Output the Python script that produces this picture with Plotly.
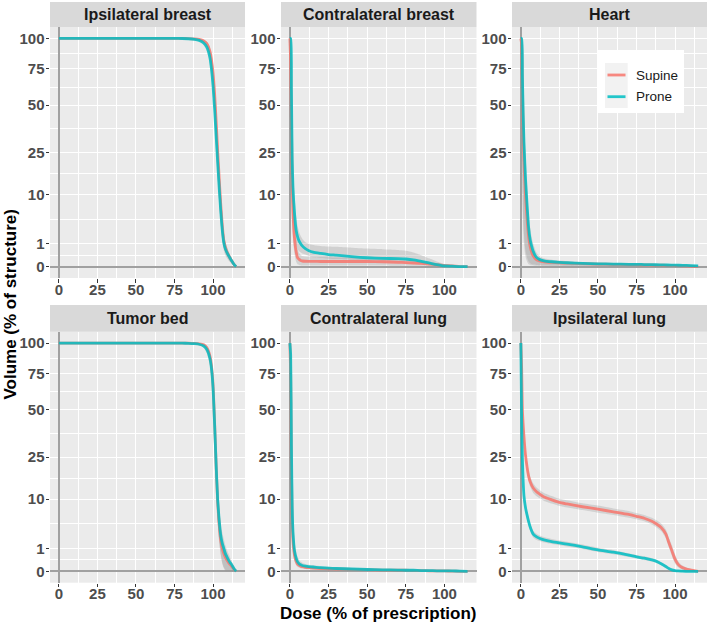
import numpy as np
import plotly.graph_objects as go

# ---------------- data ----------------
PANELS = ["Ipsilateral breast", "Contralateral breast", "Heart",
          "Tumor bed", "Contralateral lung", "Ipsilateral lung"]
SERIES = ["Supine", "Prone"]
SERIES_COLORS = ["#F8766D", "#00BFC4"]
X_TICKS = [0, 25, 50, 75, 100]
X_MINOR = [12.5, 37.5, 62.5, 87.5, 112.5]
Y_TICKS = [0, 1, 10, 25, 50, 75, 100]
Y_TICK_LABELS = ["0", "1", "10", "25", "50", "75", "100"]
X_TITLE = "Dose (% of prescription)"
Y_TITLE = "Volume (% of structure)"

# Ipsilateral breast
IB_DOSE = [0, 20, 40, 60, 75, 80, 84, 88, 91, 94, 96, 98, 99, 100, 101, 102, 103, 104, 105, 106, 107, 108, 109, 110, 111, 112, 113, 114, 115]
IB_SUP = [100, 100, 100, 100, 100, 99.95, 99.85, 99.6, 99.1, 97.8, 95.5, 89, 82, 72, 58, 41, 26, 15, 7.5, 3.3, 1.3, 0.7, 0.42, 0.26, 0.15, 0.07, 0.025, 0.004, 0]
IB_SUP_LO = [100, 100, 100, 100, 100, 99.9, 99.6, 99.2, 98.4, 96.5, 93, 85, 76, 64, 49, 32, 19, 10, 4.5, 1.8, 0.7, 0.35, 0.2, 0.11, 0.06, 0.025, 0.007, 0, 0]
IB_SUP_HI = [100, 100, 100, 100, 100, 100, 99.95, 99.8, 99.5, 98.8, 97.3, 92, 87, 79, 66, 50, 34, 21, 11.5, 5.5, 2.4, 1.2, 0.75, 0.45, 0.27, 0.14, 0.06, 0.015, 0]
IB_PRO = [100, 100, 100, 100, 100, 99.9, 99.7, 99.2, 98.3, 96, 92.5, 84, 75, 63, 48, 33, 21, 12, 6, 2.6, 1.1, 0.6, 0.38, 0.24, 0.14, 0.07, 0.025, 0.004, 0]
IB_PRO_LO = [100, 100, 100, 100, 99.9, 99.7, 99.3, 98.6, 97.3, 94, 89, 78, 68, 55, 40, 26, 15, 8, 3.5, 1.3, 0.5, 0.25, 0.14, 0.08, 0.04, 0.015, 0.004, 0, 0]
IB_PRO_HI = [100, 100, 100, 100, 100, 100, 99.9, 99.6, 99, 97.5, 95, 89, 81, 70, 56, 41, 28, 17, 9.5, 4.5, 2.2, 1.2, 0.75, 0.45, 0.27, 0.14, 0.06, 0.015, 0]

# Contralateral breast
CB_DOSE = [0, 0.5, 1, 1.5, 2, 3, 4, 5, 6, 7, 8, 10, 12, 15, 20, 25, 30, 40, 50, 60, 70, 75, 80, 85, 90, 95, 100, 105, 110, 115]
CB_SUP = [100, 80, 40, 14, 5.5, 1.5, 0.45, 0.15, 0.1, 0.07, 0.06, 0.055, 0.053, 0.052, 0.05, 0.05, 0.05, 0.05, 0.05, 0.045, 0.035, 0.03, 0.025, 0.02, 0.012, 0.006, 0.002, 0.001, 0, 0]
CB_SUP_LO = [100, 50, 15, 4, 1.5, 0.3, 0.05, 0.01, 0.005, 0.003, 0.002, 0.002, 0.002, 0.002, 0.002, 0.002, 0.002, 0.002, 0.002, 0.002, 0.001, 0.001, 0.001, 0.001, 0, 0, 0, 0, 0, 0]
CB_SUP_HI = [100, 95, 70, 35, 16, 5.5, 2.0, 0.6, 0.35, 0.26, 0.22, 0.2, 0.19, 0.18, 0.17, 0.17, 0.16, 0.16, 0.15, 0.14, 0.12, 0.11, 0.09, 0.07, 0.045, 0.025, 0.01, 0.003, 0, 0]
CB_PRO = [100, 100, 60, 22, 12, 5.5, 2.6, 1.7, 1.25, 1.0, 0.82, 0.62, 0.5, 0.4, 0.33, 0.28, 0.25, 0.19, 0.15, 0.13, 0.12, 0.11, 0.085, 0.05, 0.025, 0.008, 0.001, 0.0003, 0, 0]
CB_PRO_LO = [100, 90, 35, 10, 5, 2.2, 1.0, 0.6, 0.45, 0.38, 0.33, 0.28, 0.22, 0.17, 0.14, 0.12, 0.11, 0.09, 0.07, 0.06, 0.05, 0.045, 0.035, 0.02, 0.008, 0.002, 0, 0, 0, 0]
CB_PRO_HI = [100, 100, 80, 40, 22, 10, 5, 3.2, 2.3, 1.8, 1.5, 1.15, 1.0, 0.9, 0.82, 0.78, 0.75, 0.68, 0.62, 0.58, 0.53, 0.48, 0.38, 0.25, 0.13, 0.05, 0.012, 0.003, 0, 0]

# Heart
HT_DOSE = [0, 0.5, 1, 1.5, 2, 3, 4, 5, 6, 7, 8, 10, 12, 15, 20, 25, 30, 40, 50, 60, 70, 75, 80, 85, 90, 95, 100, 105, 110, 115]
HT_SUP = [100, 95, 60, 35, 22, 10, 4.5, 1.8, 0.8, 0.4, 0.22, 0.09, 0.06, 0.045, 0.035, 0.028, 0.022, 0.016, 0.012, 0.01, 0.008, 0.007, 0.006, 0.005, 0.004, 0.003, 0.002, 0.001, 0.0005, 0]
HT_SUP_LO = [100, 40, 10, 3, 1, 0.2, 0.05, 0.01, 0.005, 0.003, 0.002, 0.001, 0.001, 0, 0, 0, 0, 0, 0, 0, 0, 0, 0, 0, 0, 0, 0, 0, 0, 0]
HT_SUP_HI = [100, 100, 80, 55, 38, 20, 9.5, 4, 2, 1.0, 0.55, 0.22, 0.13, 0.09, 0.07, 0.055, 0.045, 0.033, 0.025, 0.02, 0.016, 0.014, 0.012, 0.01, 0.008, 0.006, 0.004, 0.002, 0.001, 0]
HT_PRO = [100, 100, 70, 45, 30, 15, 7.5, 3, 1.4, 0.8, 0.45, 0.17, 0.1, 0.065, 0.045, 0.035, 0.028, 0.02, 0.015, 0.012, 0.01, 0.01, 0.008, 0.007, 0.006, 0.005, 0.004, 0.003, 0.002, 0.001]
HT_PRO_LO = [100, 50, 15, 5, 2, 0.5, 0.15, 0.05, 0.02, 0.01, 0.008, 0.005, 0.004, 0.003, 0.002, 0.002, 0.001, 0.001, 0.001, 0, 0, 0, 0, 0, 0, 0, 0, 0, 0, 0]
HT_PRO_HI = [100, 100, 85, 62, 45, 25, 13, 6, 3, 1.7, 1.0, 0.4, 0.22, 0.13, 0.09, 0.07, 0.055, 0.04, 0.03, 0.025, 0.02, 0.018, 0.015, 0.013, 0.011, 0.009, 0.007, 0.005, 0.003, 0.002]

# Tumor bed
TB_DOSE = [0, 20, 40, 60, 75, 80, 84, 88, 91, 94, 96, 98, 99, 100, 101, 102, 103, 104, 105, 106, 107, 108, 109, 110, 111, 112, 113, 114, 115]
TB_SUP = [100, 100, 100, 100, 100, 100, 99.9, 99.7, 99.4, 98.5, 96, 89, 81, 67, 43, 22, 9.5, 4.2, 1.9, 1.0, 0.6, 0.38, 0.24, 0.15, 0.09, 0.05, 0.02, 0.004, 0]
TB_SUP_LO = [100, 100, 100, 100, 100, 99.95, 99.8, 99.4, 98.9, 97.3, 93.5, 84, 74, 58, 34, 15, 5, 1.6, 0.5, 0.12, 0.02, 0, 0, 0, 0, 0, 0, 0, 0]
TB_SUP_HI = [100, 100, 100, 100, 100, 100, 100, 99.9, 99.7, 99.3, 98, 93, 87, 75, 53, 30, 15, 7.5, 3.8, 2.2, 1.4, 0.95, 0.65, 0.42, 0.27, 0.15, 0.07, 0.015, 0]
TB_PRO = [100, 100, 100, 100, 100, 99.95, 99.8, 99.5, 99, 97.5, 94.5, 87, 79, 65, 42, 22, 10, 5, 2.5, 1.5, 1.0, 0.6, 0.4, 0.25, 0.15, 0.09, 0.035, 0.006, 0]
TB_PRO_LO = [100, 100, 100, 100, 100, 99.9, 99.6, 99.1, 98.3, 96, 91, 81, 71, 55, 32, 14, 5, 1.8, 0.6, 0.15, 0.03, 0.005, 0, 0, 0, 0, 0, 0, 0]
TB_PRO_HI = [100, 100, 100, 100, 100, 100, 99.9, 99.8, 99.5, 98.7, 96.8, 91, 85, 73, 52, 31, 16, 8.5, 4.6, 2.9, 2.0, 1.3, 0.9, 0.6, 0.38, 0.22, 0.1, 0.025, 0]

# Contralateral lung
CL_DOSE = [0, 0.5, 1, 1.5, 2, 3, 4, 5, 6, 7, 8, 10, 12, 15, 20, 25, 30, 40, 50, 60, 70, 75, 80, 85, 90, 95, 100, 105, 110, 115]
CL_SUP = [100, 75, 20, 5, 1.8, 0.5, 0.2, 0.1, 0.07, 0.05, 0.04, 0.03, 0.025, 0.02, 0.015, 0.012, 0.01, 0.007, 0.005, 0.003, 0.002, 0.002, 0.001, 0.001, 0.0005, 0.0003, 0.0002, 0.0001, 0, 0]
CL_SUP_LO = [100, 50, 10, 2, 0.7, 0.18, 0.07, 0.035, 0.025, 0.018, 0.015, 0.01, 0.008, 0.006, 0.005, 0.004, 0.003, 0.002, 0.001, 0.001, 0.0005, 0.0005, 0, 0, 0, 0, 0, 0, 0, 0]
CL_SUP_HI = [100, 90, 40, 11, 4, 1.2, 0.45, 0.22, 0.15, 0.11, 0.09, 0.065, 0.055, 0.045, 0.035, 0.028, 0.022, 0.015, 0.011, 0.007, 0.005, 0.004, 0.003, 0.002, 0.0012, 0.0008, 0.0005, 0.0003, 0.0001, 0]
CL_PRO = [100, 90, 30, 8, 3, 0.8, 0.35, 0.17, 0.11, 0.08, 0.065, 0.05, 0.04, 0.035, 0.025, 0.02, 0.015, 0.01, 0.006, 0.004, 0.003, 0.002, 0.002, 0.001, 0.001, 0.0005, 0.0003, 0.0002, 0.0001, 0]
CL_PRO_LO = [100, 70, 15, 3.5, 1.2, 0.3, 0.12, 0.06, 0.04, 0.03, 0.025, 0.02, 0.015, 0.012, 0.009, 0.007, 0.005, 0.003, 0.002, 0.001, 0.001, 0.0005, 0.0005, 0, 0, 0, 0, 0, 0, 0]
CL_PRO_HI = [100, 98, 50, 15, 6, 1.8, 0.8, 0.4, 0.25, 0.18, 0.14, 0.1, 0.08, 0.07, 0.05, 0.04, 0.03, 0.02, 0.013, 0.009, 0.006, 0.005, 0.004, 0.003, 0.002, 0.0012, 0.0008, 0.0005, 0.0003, 0.0001]

# Ipsilateral lung
IL_DOSE = [0, 0.5, 1, 2, 3, 4, 5, 6, 8, 10, 12, 15, 20, 25, 30, 40, 50, 60, 70, 75, 80, 85, 88, 91, 94, 96, 98, 100, 102, 104, 107, 110, 115]
IL_SUP = [100, 80, 50, 35, 26, 21, 17.5, 15.5, 13.3, 12.2, 11.5, 10.6, 9.8, 9.1, 8.7, 8.0, 7.4, 6.8, 6.2, 5.8, 5.4, 4.8, 4.3, 3.7, 2.7, 1.6, 0.8, 0.28, 0.09, 0.035, 0.012, 0.004, 0]
IL_SUP_LO = [100, 72, 44, 31, 23, 18.5, 15.5, 13.8, 11.8, 10.9, 10.3, 9.5, 8.8, 8.2, 7.8, 7.2, 6.6, 6.1, 5.5, 5.2, 4.8, 4.2, 3.7, 3.1, 2.1, 1.1, 0.45, 0.12, 0.03, 0.01, 0.003, 0.001, 0]
IL_SUP_HI = [100, 87, 56, 39, 29, 23.5, 19.7, 17.3, 14.9, 13.6, 12.8, 11.8, 10.9, 10.1, 9.7, 8.9, 8.3, 7.6, 7.0, 6.5, 6.1, 5.5, 5.0, 4.4, 3.4, 2.2, 1.3, 0.55, 0.2, 0.08, 0.03, 0.01, 0]
IL_PRO = [100, 45, 24, 11, 7.8, 6.1, 4.8, 3.8, 2.65, 2.3, 2.1, 1.9, 1.7, 1.55, 1.42, 1.15, 0.88, 0.7, 0.5, 0.4, 0.33, 0.25, 0.19, 0.11, 0.045, 0.015, 0.004, 0.001, 0.0003, 0.0001, 0, 0, 0]
IL_PRO_LO = [100, 38, 20, 9.3, 6.6, 5.1, 4.0, 3.2, 2.2, 1.9, 1.75, 1.58, 1.42, 1.3, 1.18, 0.95, 0.72, 0.56, 0.39, 0.31, 0.25, 0.18, 0.13, 0.07, 0.025, 0.006, 0.001, 0, 0, 0, 0, 0, 0]
IL_PRO_HI = [100, 52, 28, 12.8, 9.1, 7.2, 5.7, 4.5, 3.15, 2.75, 2.5, 2.25, 2.0, 1.82, 1.68, 1.37, 1.06, 0.86, 0.63, 0.51, 0.43, 0.33, 0.26, 0.16, 0.075, 0.03, 0.01, 0.003, 0.001, 0.0003, 0, 0, 0]

PANEL_DATA = [
    (IB_DOSE, [(IB_SUP, IB_SUP_LO, IB_SUP_HI), (IB_PRO, IB_PRO_LO, IB_PRO_HI)]),
    (CB_DOSE, [(CB_SUP, CB_SUP_LO, CB_SUP_HI), (CB_PRO, CB_PRO_LO, CB_PRO_HI)]),
    (HT_DOSE, [(HT_SUP, HT_SUP_LO, HT_SUP_HI), (HT_PRO, HT_PRO_LO, HT_PRO_HI)]),
    (TB_DOSE, [(TB_SUP, TB_SUP_LO, TB_SUP_HI), (TB_PRO, TB_PRO_LO, TB_PRO_HI)]),
    (CL_DOSE, [(CL_SUP, CL_SUP_LO, CL_SUP_HI), (CL_PRO, CL_PRO_LO, CL_PRO_HI)]),
    (IL_DOSE, [(IL_SUP, IL_SUP_LO, IL_SUP_HI), (IL_PRO, IL_PRO_LO, IL_PRO_HI)]),
]
for d, ser in PANEL_DATA:
    for trip in ser:
        for arr in trip:
            assert len(arr) == len(d), (len(arr), len(d))

# ---------------- layout geometry (pixels) ----------------
W, H = 708, 624
COL_X = [(50, 245), (281, 476.5), (512, 707)]
ROW_Y = [(27, 278), (331.7, 582.7)]
STRIP_Y = [(2, 27), (305, 331.7)]
FONT = "Liberation Sans, Arial, sans-serif"


def px(x):
    return x / W


def py(y):
    return (H - y) / H


def tr(v):
    # square-root volume scale
    return np.sqrt(np.asarray(v, dtype=float))


fig = go.Figure()
RIB = "rgba(153,153,153,0.30)"

for i, (dose, ser) in enumerate(PANEL_DATA):
    xa = "x" if i == 0 else f"x{i+1}"
    ya = "y" if i == 0 else f"y{i+1}"
    # ribbons first
    for k, (mean, lo, hi) in enumerate(ser):
        fig.add_trace(go.Scatter(x=dose, y=tr(lo), xaxis=xa, yaxis=ya, mode="lines",
                                 line=dict(width=0, shape="spline", smoothing=0.6),
                                 showlegend=False, hoverinfo="skip"))
        fig.add_trace(go.Scatter(x=dose, y=tr(hi), xaxis=xa, yaxis=ya, mode="lines",
                                 line=dict(width=0, shape="spline", smoothing=0.6),
                                 fill="tonexty", fillcolor=RIB,
                                 showlegend=False, hoverinfo="skip"))
    for k, (mean, lo, hi) in enumerate(ser):
        fig.add_trace(go.Scatter(x=dose, y=tr(mean), xaxis=xa, yaxis=ya, mode="lines",
                                 name=SERIES[k], opacity=0.85,
                                 line=dict(color=SERIES_COLORS[k], width=2.8,
                                           shape="spline", smoothing=0.6),
                                 showlegend=False))

shapes = []
annotations = []
ytv = tr(Y_TICKS)
ymin = [(ytv[j] + ytv[j + 1]) / 2 for j in range(len(ytv) - 1)]

for i, name in enumerate(PANELS):
    r, c = divmod(i, 3)
    xk = "xaxis" if i == 0 else f"xaxis{i+1}"
    yk = "yaxis" if i == 0 else f"yaxis{i+1}"
    xa = "x" if i == 0 else f"x{i+1}"
    ya = "y" if i == 0 else f"y{i+1}"
    common = dict(showline=False, ticks="outside", ticklen=3.5, tickwidth=1.1,
                  tickcolor="#333333", showgrid=True, gridcolor="white", gridwidth=1.1,
                  zeroline=True, zerolinecolor="#A0A0A0", zerolinewidth=1.8,
                  automargin=False,
                  tickfont=dict(family=FONT, size=15, color="#4D4D4D", weight="bold"),
                  fixedrange=True)
    fig.layout[xk] = dict(common, domain=[px(COL_X[c][0]), px(COL_X[c][1])], anchor=ya,
                          range=[-5.75, 120.75], tickmode="array", tickvals=X_TICKS,
                          ticktext=[str(t) for t in X_TICKS], ticklabelstandoff=-6,
                          minor=dict(tickmode="array", tickvals=X_MINOR, showgrid=True,
                                     gridcolor="white", gridwidth=0.55, ticks=""))
    fig.layout[yk] = dict(common, domain=[py(ROW_Y[r][1]), py(ROW_Y[r][0])], anchor=xa,
                          range=[-0.5, 10.5], tickmode="array", tickvals=list(ytv),
                          ticktext=Y_TICK_LABELS, ticklabelstandoff=-2,
                          minor=dict(tickmode="array", tickvals=ymin, showgrid=True,
                                     gridcolor="white", gridwidth=0.55, ticks=""))
    # strip
    shapes.append(dict(type="rect", xref=f"{xa} domain", x0=0, x1=1, yref="paper",
                       y0=py(STRIP_Y[r][1]), y1=py(STRIP_Y[r][0]),
                       fillcolor="#D9D9D9", line=dict(width=0), layer="below"))
    annotations.append(dict(text=name, xref=f"{xa} domain", x=0.5, yref="paper",
                            y=py((STRIP_Y[r][0] + STRIP_Y[r][1]) / 2),
                            xanchor="center", yanchor="middle", showarrow=False,
                            font=dict(family=FONT, size=16, color="#1A1A1A", weight="bold")))

# axis titles
annotations.append(dict(text=X_TITLE, xref="paper", yref="paper", x=px(378), y=py(613),
                        xanchor="center", yanchor="middle", showarrow=False,
                        font=dict(family=FONT, size=17, color="black", weight="bold")))
annotations.append(dict(text=Y_TITLE, xref="paper", yref="paper", x=px(9.5), y=py(305),
                        xanchor="center", yanchor="middle", showarrow=False, textangle=-90,
                        font=dict(family=FONT, size=17, color="black", weight="bold")))

# legend (drawn inside Heart panel)
shapes.append(dict(type="rect", xref="paper", yref="paper", x0=px(597), x1=px(684),
                   y0=py(113), y1=py(50), fillcolor="white", line=dict(width=0)))
shapes.append(dict(type="rect", xref="paper", yref="paper", x0=px(605), x1=px(627.7),
                   y0=py(108), y1=py(63), fillcolor="#F2F2F2", line=dict(width=0)))
LEG_Y = [75, 96.7]
for k, s in enumerate(SERIES):
    shapes.append(dict(type="line", xref="paper", yref="paper", x0=px(607.5), x1=px(625.5),
                       y0=py(LEG_Y[k]), y1=py(LEG_Y[k]), opacity=0.85,
                       line=dict(color=SERIES_COLORS[k], width=2.8)))
    annotations.append(dict(text=s, xref="paper", yref="paper", x=px(634), y=py(LEG_Y[k]),
                            xanchor="left", yanchor="middle", showarrow=False,
                            font=dict(family=FONT, size=13.5, color="#1A1A1A")))

fig.update_layout(width=W, height=H, margin=dict(l=0, r=0, t=0, b=0, autoexpand=False),
                  paper_bgcolor="white", plot_bgcolor="#EBEBEB",
                  showlegend=False, shapes=shapes, annotations=annotations)

fig.write_html("out.html", config={"displayModeBar": False},
               post_script="document.body.style.margin='0px';"
                           "document.body.style.overflow='hidden';")
